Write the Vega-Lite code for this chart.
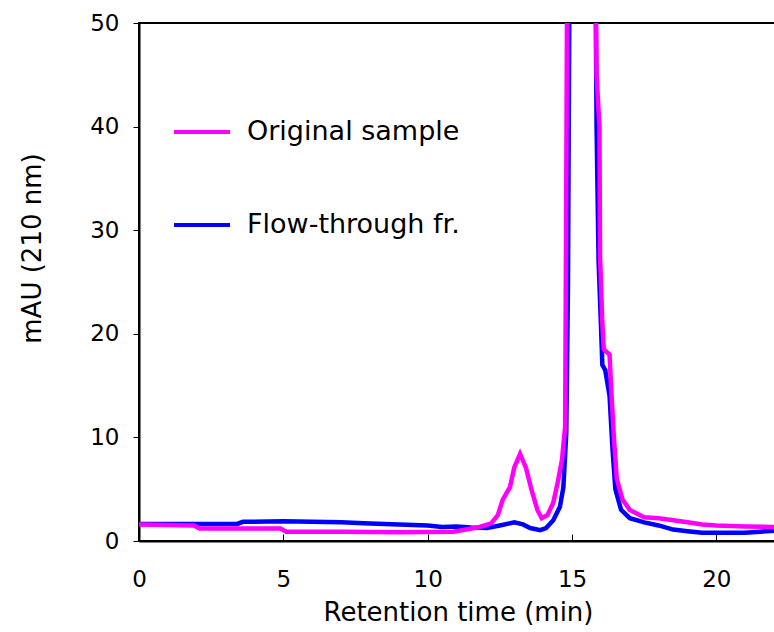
{
  "$schema": "https://vega.github.io/schema/vega-lite/v6.json",
  "autosize": "none",
  "padding": {"left": 139, "top": 23, "right": 0, "bottom": 91},
  "width": 638,
  "height": 518,
  "background": "white",
  "config": {
    "font": "DejaVu Sans",
    "view": {"stroke": "black", "strokeWidth": 2},
    "axis": {"labelFont": "DejaVu Sans", "titleFont": "DejaVu Sans", "labelColor": "black", "titleColor": "black", "domainColor": "black", "tickColor": "black", "grid": false, "labelFontSize": 23, "titleFontSize": 26, "titleFontWeight": "normal", "domainWidth": 2}
  },
  "datasets": {
    "flow": [
      {"t": 0, "y": 1.65, "s": "Flow-through fr."},
      {"t": 1, "y": 1.65, "s": "Flow-through fr."},
      {"t": 2, "y": 1.65, "s": "Flow-through fr."},
      {"t": 3.4, "y": 1.65, "s": "Flow-through fr."},
      {"t": 3.6, "y": 1.85, "s": "Flow-through fr."},
      {"t": 5, "y": 1.9, "s": "Flow-through fr."},
      {"t": 6, "y": 1.85, "s": "Flow-through fr."},
      {"t": 7, "y": 1.8, "s": "Flow-through fr."},
      {"t": 8, "y": 1.7, "s": "Flow-through fr."},
      {"t": 9, "y": 1.6, "s": "Flow-through fr."},
      {"t": 10, "y": 1.5, "s": "Flow-through fr."},
      {"t": 10.5, "y": 1.35, "s": "Flow-through fr."},
      {"t": 11, "y": 1.4, "s": "Flow-through fr."},
      {"t": 11.5, "y": 1.3, "s": "Flow-through fr."},
      {"t": 12.05, "y": 1.25, "s": "Flow-through fr."},
      {"t": 12.5, "y": 1.5, "s": "Flow-through fr."},
      {"t": 13.0, "y": 1.8, "s": "Flow-through fr."},
      {"t": 13.3, "y": 1.6, "s": "Flow-through fr."},
      {"t": 13.55, "y": 1.25, "s": "Flow-through fr."},
      {"t": 13.9, "y": 1.05, "s": "Flow-through fr."},
      {"t": 14.1, "y": 1.25, "s": "Flow-through fr."},
      {"t": 14.35, "y": 2.0, "s": "Flow-through fr."},
      {"t": 14.58, "y": 3.3, "s": "Flow-through fr."},
      {"t": 14.7, "y": 5.2, "s": "Flow-through fr."},
      {"t": 14.8, "y": 10.4, "s": "Flow-through fr."},
      {"t": 14.86, "y": 25, "s": "Flow-through fr."},
      {"t": 14.92, "y": 60, "s": "Flow-through fr."},
      {"t": 15.3, "y": 120, "s": "Flow-through fr."},
      {"t": 15.8, "y": 60, "s": "Flow-through fr."},
      {"t": 15.85, "y": 40, "s": "Flow-through fr."},
      {"t": 15.92, "y": 27, "s": "Flow-through fr."},
      {"t": 16.0, "y": 21, "s": "Flow-through fr."},
      {"t": 16.05, "y": 17, "s": "Flow-through fr."},
      {"t": 16.15, "y": 16.5, "s": "Flow-through fr."},
      {"t": 16.3, "y": 14, "s": "Flow-through fr."},
      {"t": 16.4, "y": 9, "s": "Flow-through fr."},
      {"t": 16.5, "y": 5, "s": "Flow-through fr."},
      {"t": 16.7, "y": 3, "s": "Flow-through fr."},
      {"t": 17.0, "y": 2.2, "s": "Flow-through fr."},
      {"t": 17.5, "y": 1.8, "s": "Flow-through fr."},
      {"t": 18.0, "y": 1.5, "s": "Flow-through fr."},
      {"t": 18.5, "y": 1.1, "s": "Flow-through fr."},
      {"t": 19.0, "y": 0.95, "s": "Flow-through fr."},
      {"t": 19.5, "y": 0.8, "s": "Flow-through fr."},
      {"t": 20.0, "y": 0.8, "s": "Flow-through fr."},
      {"t": 21.0, "y": 0.8, "s": "Flow-through fr."},
      {"t": 21.5, "y": 0.9, "s": "Flow-through fr."},
      {"t": 22.1, "y": 1.0, "s": "Flow-through fr."}
    ],
    "orig": [
      {"t": 0, "y": 1.6, "s": "Original sample"},
      {"t": 1.0, "y": 1.55, "s": "Original sample"},
      {"t": 1.9, "y": 1.5, "s": "Original sample"},
      {"t": 2.1, "y": 1.2, "s": "Original sample"},
      {"t": 4.9, "y": 1.2, "s": "Original sample"},
      {"t": 5.1, "y": 0.9, "s": "Original sample"},
      {"t": 7, "y": 0.9, "s": "Original sample"},
      {"t": 9, "y": 0.85, "s": "Original sample"},
      {"t": 10.9, "y": 0.9, "s": "Original sample"},
      {"t": 11.8, "y": 1.35, "s": "Original sample"},
      {"t": 12.2, "y": 1.7, "s": "Original sample"},
      {"t": 12.43, "y": 2.5, "s": "Original sample"},
      {"t": 12.6, "y": 4.0, "s": "Original sample"},
      {"t": 12.85, "y": 5.2, "s": "Original sample"},
      {"t": 13.0, "y": 7.1, "s": "Original sample"},
      {"t": 13.2, "y": 8.4, "s": "Original sample"},
      {"t": 13.4, "y": 7.1, "s": "Original sample"},
      {"t": 13.6, "y": 4.9, "s": "Original sample"},
      {"t": 13.8, "y": 3.0, "s": "Original sample"},
      {"t": 13.95, "y": 2.2, "s": "Original sample"},
      {"t": 14.15, "y": 2.5, "s": "Original sample"},
      {"t": 14.35, "y": 3.7, "s": "Original sample"},
      {"t": 14.5, "y": 5.6, "s": "Original sample"},
      {"t": 14.65, "y": 7.8, "s": "Original sample"},
      {"t": 14.76, "y": 11, "s": "Original sample"},
      {"t": 14.78, "y": 22, "s": "Original sample"},
      {"t": 14.84, "y": 60, "s": "Original sample"},
      {"t": 15.3, "y": 120, "s": "Original sample"},
      {"t": 15.8, "y": 60, "s": "Original sample"},
      {"t": 15.85, "y": 45, "s": "Original sample"},
      {"t": 15.95, "y": 40, "s": "Original sample"},
      {"t": 15.97, "y": 27.5, "s": "Original sample"},
      {"t": 16.05, "y": 21, "s": "Original sample"},
      {"t": 16.1, "y": 18.5, "s": "Original sample"},
      {"t": 16.3, "y": 18, "s": "Original sample"},
      {"t": 16.35, "y": 15, "s": "Original sample"},
      {"t": 16.45, "y": 10, "s": "Original sample"},
      {"t": 16.55, "y": 6, "s": "Original sample"},
      {"t": 16.75, "y": 4, "s": "Original sample"},
      {"t": 17.0, "y": 3, "s": "Original sample"},
      {"t": 17.5, "y": 2.3, "s": "Original sample"},
      {"t": 18.0, "y": 2.2, "s": "Original sample"},
      {"t": 18.5, "y": 2.0, "s": "Original sample"},
      {"t": 19.0, "y": 1.8, "s": "Original sample"},
      {"t": 19.5, "y": 1.6, "s": "Original sample"},
      {"t": 20.0, "y": 1.5, "s": "Original sample"},
      {"t": 21.0, "y": 1.4, "s": "Original sample"},
      {"t": 22.1, "y": 1.35, "s": "Original sample"}
    ]
  },
  "encoding": {
    "x": {"field": "t", "type": "quantitative", "scale": {"domain": [0, 22.1], "nice": false}, "axis": {"values": [0, 5, 10, 15, 20], "title": "Retention time (min)", "tickSize": -7, "labelPadding": 34, "labelFlush": false, "titlePadding": 8}},
    "y": {"field": "y", "type": "quantitative", "scale": {"domain": [0, 50], "nice": false}, "axis": {"values": [0, 10, 20, 30, 40, 50], "title": "mAU (210 nm)", "tickSize": 6, "labelPadding": 14, "labelFlush": false, "titleY": 225, "titleX": -107, "titleAngle": -90, "titleBaseline": "middle", "titleAlign": "center"}},
    "color": {"field": "s", "type": "nominal", "scale": {"domain": ["Original sample", "Flow-through fr."], "range": ["#FF00FF", "#0000FF"]},
      "legend": {"orient": "none", "legendX": 33, "legendY": 79, "title": null, "symbolType": "stroke", "symbolSize": 3136, "symbolStrokeWidth": 4, "labelFontSize": 27, "labelFont": "DejaVu Sans", "labelColor": "black", "labelOffset": 15, "rowPadding": 50, "labelLimit": 400, "labelExpr": "datum.label == 'Flow-through fr.' ? ' Flow-through fr.' : datum.label"}}
  },
  "layer": [
    {"data": {"name": "flow"}, "mark": {"type": "line", "strokeWidth": 4.5, "clip": true}},
    {"data": {"name": "orig"}, "mark": {"type": "line", "strokeWidth": 4.5, "clip": true}}
  ]
}
